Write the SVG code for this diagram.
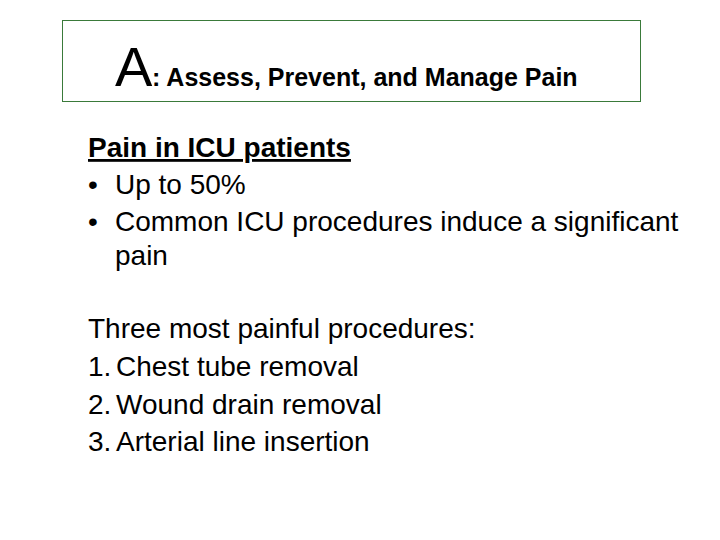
<svg xmlns="http://www.w3.org/2000/svg" width="720" height="540" viewBox="0 0 720 540">
<style>
text{font-family:"Liberation Sans",Arial,sans-serif;fill:#000}
.b{font-size:28px}
</style>
<rect width="720" height="540" fill="#fff"/>
<rect x="62.5" y="20.5" width="578" height="81" fill="#fff" stroke="#3a7a3a" stroke-width="1"/>
<text x="115" y="86" font-size="56">A</text>
<text x="152" y="86" font-size="25" font-weight="bold">: Assess, Prevent, and Manage Pain</text>
<text class="b" x="88" y="157" font-weight="bold" text-decoration="underline">Pain in ICU patients</text>
<text class="b" x="88" y="194">•</text>
<text class="b" x="115" y="194">Up to 50%</text>
<text class="b" x="88" y="231">•</text>
<text class="b" x="115" y="231">Common ICU procedures induce a significant</text>
<text class="b" x="115" y="265">pain</text>
<text class="b" x="88" y="338">Three most painful procedures:</text>
<text class="b" x="88" y="376">1.</text><text class="b" x="116" y="376">Chest tube removal</text>
<text class="b" x="88" y="414">2.</text><text class="b" x="116" y="414">Wound drain removal</text>
<text class="b" x="88" y="451">3.</text><text class="b" x="116" y="451">Arterial line insertion</text>
</svg>
